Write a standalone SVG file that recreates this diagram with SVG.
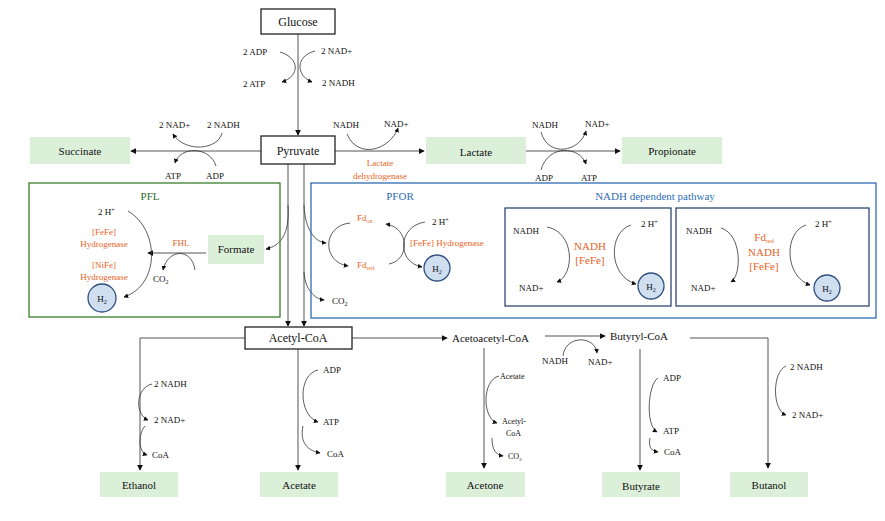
<svg xmlns="http://www.w3.org/2000/svg" width="885" height="521" viewBox="0 0 885 521" font-family="'Liberation Serif', serif">
<style>
text{font-family:'Liberation Serif',serif;fill:#111}
.s{font-size:9px}.m{font-size:11px}.b{font-size:12px}
.o{fill:#e8641e}
.box{fill:#fff;stroke:#222;stroke-width:1.3}
.g{fill:#dcefd9}
.ln{fill:none;stroke:#555;stroke-width:1}
.c{fill:none;stroke:#333;stroke-width:0.8}
.h2{fill:#d0dff0;stroke:#2f4f80;stroke-width:1.3}
</style>
<defs><marker id="a" viewBox="0 0 8 8" refX="7" refY="4" markerWidth="6" markerHeight="6" orient="auto"><path d="M0,0L8,4L0,8z" fill="#111"/></marker></defs>
<g id="connectors">
<path class="ln" d="M298,34V135" marker-end="url(#a)"/>
<path class="ln" d="M261,151H131" marker-end="url(#a)"/>
<path class="ln" d="M335,151H424" marker-end="url(#a)"/>
<path class="ln" d="M526,151H620" marker-end="url(#a)"/>
<path class="ln" d="M288,164V326" marker-end="url(#a)"/>
<path class="ln" d="M304,164V326" marker-end="url(#a)"/>
<path class="ln" d="M206,253H148" marker-end="url(#a)"/>
<path class="ln" d="M245,338H140V470" marker-end="url(#a)"/>
<path class="ln" d="M298,349V470" marker-end="url(#a)"/>
<path class="ln" d="M352,338H447" marker-end="url(#a)"/>
<path class="ln" d="M545,336H605" marker-end="url(#a)"/>
<path class="ln" d="M690,338H768V468" marker-end="url(#a)"/>
<path class="ln" d="M484,348V468" marker-end="url(#a)"/>
<path class="ln" d="M640,349V470" marker-end="url(#a)"/>
<!-- glucose arcs -->
<path class="c" d="M280,52C300,58 300,76 282,82" marker-end="url(#a)"/>
<path class="c" d="M315,51C295,56 296,76 312,82" marker-end="url(#a)"/>
<!-- succinate arcs -->
<path class="c" d="M222,133C218,150 185,153 173,134" marker-end="url(#a)"/>
<path class="c" d="M216,166C210,146 180,146 175,163" marker-end="url(#a)"/>
<!-- lactate arc -->
<path class="c" d="M347,134C358,160 390,150 398,128" marker-end="url(#a)"/>
<!-- propionate arcs -->
<path class="c" d="M541,132C548,158 580,152 586,131" marker-end="url(#a)"/>
<path class="c" d="M541,170C548,144 580,146 586,164" marker-end="url(#a)"/>
<!-- PFL -->
<path class="c" d="M128,211C160,230 160,285 124,297" marker-end="url(#a)"/>
<path class="c" d="M195,270C192,248 168,248 163,270" marker-end="url(#a)"/>
<path class="c" d="M288,205C290,235 280,246 266,249" marker-end="url(#a)"/>
<!-- PFOR -->
<path class="c" d="M304,205C305,230 315,242 326,243" marker-end="url(#a)"/>
<path class="c" d="M304,272C305,290 315,299 324,300" marker-end="url(#a)"/>
<path class="c" d="M350,223C322,226 322,262 348,266" marker-end="url(#a)"/>
<path class="c" d="M389,264C410,260 410,228 386,224" marker-end="url(#a)"/>
<path class="c" d="M425,222C398,226 396,262 422,267" marker-end="url(#a)"/>
<!-- NADH dependent -->
<path class="c" d="M547,227C575,232 575,275 557,282" marker-end="url(#a)"/>
<path class="c" d="M631,225C608,232 608,276 636,284" marker-end="url(#a)"/>
<path class="c" d="M721,228C742,234 742,275 731,282" marker-end="url(#a)"/>
<path class="c" d="M806,225C784,232 784,276 810,285" marker-end="url(#a)"/>
<!-- butyryl arc -->
<path class="c" d="M563,356C565,335 595,335 597,353" marker-end="url(#a)"/>
<!-- side arcs -->
<path class="c" d="M152,384C135,388 135,415 148,420" marker-end="url(#a)"/>
<path class="c" d="M145,426C138,434 138,452 147,455" marker-end="url(#a)"/>
<path class="c" d="M318,370C298,374 298,415 318,422" marker-end="url(#a)"/>
<path class="c" d="M303,426C300,440 305,450 320,453" marker-end="url(#a)"/>
<path class="c" d="M499,376C482,380 482,418 497,423" marker-end="url(#a)"/>
<path class="c" d="M492,438C492,450 496,455 503,456" marker-end="url(#a)"/>
<path class="c" d="M658,378C648,384 645,425 657,432" marker-end="url(#a)"/>
<path class="c" d="M650,438C648,448 652,451 658,452" marker-end="url(#a)"/>
<path class="c" d="M786,366C772,372 772,410 786,415" marker-end="url(#a)"/>
</g>
<g id="glucose"><rect class="box" x="261" y="9" width="74" height="25"/><text class="b" x="298" y="26" text-anchor="middle">Glucose</text></g>
<g id="glycolysis-labels"><text class="s" x="243" y="55">2 ADP</text><text class="s" x="243" y="87">2 ATP</text><text class="s" x="321" y="54">2 NAD+</text><text class="s" x="322" y="86">2 NADH</text></g>
<g id="pyruvate"><rect class="box" x="261" y="136" width="74" height="28"/><text class="b" x="298" y="155" text-anchor="middle">Pyruvate</text></g>
<g id="succinate"><rect class="g" x="30" y="137" width="100" height="27"/><text class="m" x="80" y="155" text-anchor="middle">Succinate</text>
<text class="s" x="159" y="128">2 NAD+</text><text class="s" x="207" y="128">2 NADH</text><text class="s" x="165" y="179">ATP</text><text class="s" x="206" y="179">ADP</text></g>
<g id="lactate"><rect class="g" x="426" y="137" width="100" height="27"/><text class="m" x="476" y="156" text-anchor="middle">Lactate</text>
<text class="s" x="333" y="128">NADH</text><text class="s" x="384" y="127">NAD+</text>
<text class="s o" x="380" y="166" text-anchor="middle">Lactate</text><text class="s o" x="380" y="179" text-anchor="middle">dehydrogenase</text></g>
<g id="propionate"><rect class="g" x="622" y="137" width="100" height="27"/><text class="m" x="672" y="155" text-anchor="middle">Propionate</text>
<text class="s" x="532" y="128">NADH</text><text class="s" x="585" y="127">NAD+</text><text class="s" x="535" y="181">ADP</text><text class="s" x="581" y="181">ATP</text></g>
<g id="pfl"><rect x="29" y="183" width="251" height="134" fill="none" stroke="#3a7d2c" stroke-width="1.3"/>
<text x="150" y="200" font-size="11" text-anchor="middle" style="fill:#2e6b2a">PFL</text>
<text class="s" x="98" y="215">2 H<tspan font-size="6" dy="-3">+</tspan></text>
<text class="s o" x="104" y="235" text-anchor="middle">[FeFe]</text><text class="s o" x="104" y="247" text-anchor="middle">Hydrogenase</text>
<text class="s o" x="104" y="268" text-anchor="middle">[NiFe]</text><text class="s o" x="104" y="280" text-anchor="middle">Hydrogenase</text>
<circle class="h2" cx="102" cy="298" r="14"/><text class="s" x="102" y="302" text-anchor="middle">H<tspan font-size="6" dy="2">2</tspan></text>
<text class="s o" x="181" y="246" text-anchor="middle">FHL</text>
<text class="s" x="153" y="282">CO<tspan font-size="6" dy="2">2</tspan></text></g>
<g id="formate"><rect class="g" x="208" y="235" width="56" height="29"/><text class="m" x="236" y="253" text-anchor="middle">Formate</text></g>
<g id="pfor"><rect x="311" y="183" width="565" height="135" fill="none" stroke="#2e6db4" stroke-width="1.3"/>
<text x="400" y="200" font-size="11" text-anchor="middle" style="fill:#2e6db4">PFOR</text>
<text class="s o" x="357" y="221">Fd<tspan font-size="6" dy="2">ox</tspan></text>
<text class="s o" x="357" y="268">Fd<tspan font-size="6" dy="2">red</tspan></text>
<text class="s" x="432" y="225">2 H<tspan font-size="6" dy="-3">+</tspan></text>
<text class="s o" x="410" y="246">[FeFe] Hydrogenase</text>
<circle class="h2" cx="437" cy="268" r="13"/><text class="s" x="437" y="272" text-anchor="middle">H<tspan font-size="6" dy="2">2</tspan></text>
<text class="s" x="332" y="304">CO<tspan font-size="6" dy="2">2</tspan></text></g>
<g id="nadh-pathway"><text x="655" y="200" font-size="11" text-anchor="middle" style="fill:#2e6db4">NADH  dependent pathway</text>
<rect x="505" y="208" width="166" height="98" fill="none" stroke="#1f3864" stroke-width="1.2"/>
<text class="s" x="513" y="234">NADH</text><text class="s" x="519" y="291">NAD+</text>
<text class="m o" x="590" y="250" text-anchor="middle">NADH</text><text class="m o" x="590" y="264" text-anchor="middle">[FeFe]</text>
<text class="s" x="641" y="227">2 H<tspan font-size="6" dy="-3">+</tspan></text>
<circle class="h2" cx="651" cy="286" r="13"/><text class="s" x="651" y="290" text-anchor="middle">H<tspan font-size="6" dy="2">2</tspan></text>
<rect x="676" y="208" width="193" height="98" fill="none" stroke="#1f3864" stroke-width="1.2"/>
<text class="s" x="686" y="234">NADH</text><text class="s" x="691" y="291">NAD+</text>
<text class="m o" x="764" y="241" text-anchor="middle">Fd<tspan font-size="6" dy="2">red</tspan></text>
<text class="m o" x="764" y="256" text-anchor="middle">NADH</text><text class="m o" x="764" y="270" text-anchor="middle">[FeFe]</text>
<text class="s" x="815" y="227">2 H<tspan font-size="6" dy="-3">+</tspan></text>
<circle class="h2" cx="827" cy="288" r="13"/><text class="s" x="827" y="292" text-anchor="middle">H<tspan font-size="6" dy="2">2</tspan></text></g>
<g id="acetylcoa"><rect class="box" x="245" y="327" width="107" height="22"/><text class="b" x="298" y="342" text-anchor="middle">Acetyl-CoA</text></g>
<g id="acetoacetylcoa"><text class="m" x="452" y="342">Acetoacetyl-CoA</text></g>
<g id="butyrylcoa"><text class="m" x="610" y="340">Butyryl-CoA</text>
<text class="s" x="542" y="364">NADH</text><text class="s" x="588" y="365">NAD+</text></g>
<g id="ethanol"><rect class="g" x="100" y="472" width="78" height="25"/><text class="m" x="139" y="489" text-anchor="middle">Ethanol</text>
<text class="s" x="154" y="387">2 NADH</text><text class="s" x="154" y="423">2 NAD+</text><text class="s" x="152" y="458">CoA</text></g>
<g id="acetate"><rect class="g" x="260" y="472" width="78" height="25"/><text class="m" x="299" y="489" text-anchor="middle">Acetate</text>
<text class="s" x="323" y="373">ADP</text><text class="s" x="323" y="425">ATP</text><text class="s" x="327" y="457">CoA</text></g>
<g id="acetone"><rect class="g" x="446" y="472" width="79" height="25"/><text class="m" x="485" y="489" text-anchor="middle">Acetone</text>
<text font-size="8" x="500" y="379">Acetate</text><text font-size="8" x="502" y="424">Acetyl-</text><text font-size="8" x="506" y="436">CoA</text>
<text font-size="8" x="508" y="459">CO<tspan font-size="5" dy="2">2</tspan></text></g>
<g id="butyrate"><rect class="g" x="602" y="472" width="78" height="25"/><text class="m" x="641" y="490" text-anchor="middle">Butyrate</text>
<text class="s" x="663" y="381">ADP</text><text class="s" x="663" y="434">ATP</text><text class="s" x="664" y="455">CoA</text></g>
<g id="butanol"><rect class="g" x="730" y="472" width="78" height="25"/><text class="m" x="769" y="489" text-anchor="middle">Butanol</text>
<text class="s" x="790" y="370">2 NADH</text><text class="s" x="792" y="418">2 NAD+</text></g>
</svg>
